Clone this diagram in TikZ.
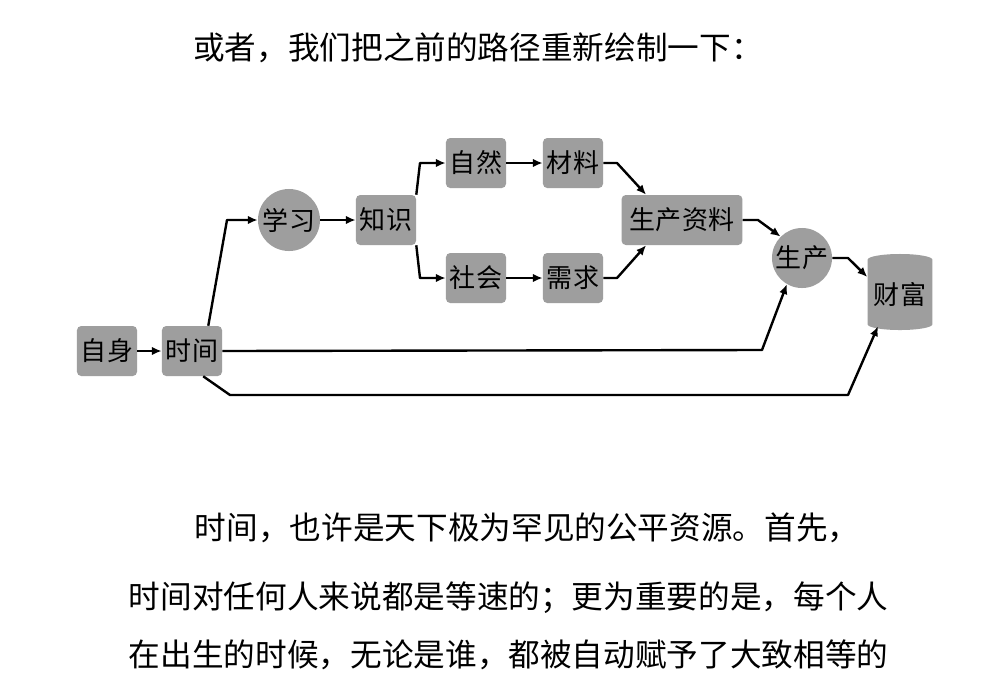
\documentclass[tikz,border=0pt]{standalone}
\usepackage{fontspec}
\newfontfamily\cjk{Noto Sans CJK SC}
\usetikzlibrary{shapes.geometric, positioning, arrows.meta}
\tikzset{
  box/.style={rectangle, rounded corners=3pt, minimum width=1.5cm, minimum height=1.25cm, inner sep=1pt, text centered, fill=black!38},
  act/.style={circle, minimum size=1.5cm, inner sep=0pt, text centered, fill=black!38},
  store/.style={cylinder, shape border rotate=90, aspect=0.22, minimum width=1.62cm, minimum height=1.9cm, inner sep=0pt, text centered, fill=black!38},
  arrow/.style={line width=1.7pt, -{Latex[length=7pt,width=6pt]}, line join=round},
  prose/.style={anchor=west, font=\cjk\fontsize{22.5}{26}\selectfont}
}

\begin{document}
\begin{tikzpicture}[x=0.025cm, y=-0.025cm, every node/.style={font=\cjk\fontsize{18.5}{21}\selectfont}]
        \fill[white] (0,0) rectangle (995,680);
        \node (title) at (478,48) [font=\cjk\fontsize{22.5}{26}\selectfont] {或者，我们把之前的路径重新绘制一下：};

        \node (zishen) [box] at (107,351) {自身};
        \node (shijian) [box] at (192,351) {时间};
        \node (xuexi) [act, minimum size=1.55cm] at (289,220) {学习};
        \node (zhishi) [box] at (386,220) {知识};
        \node (ziran) [box] at (476,163) {自然};
        \node (cailiao) [box] at (573,163) {材料};
        \node (shehui) [box] at (476,278) {社会};
        \node (xuqiu) [box] at (573,278) {需求};
        \node (ziliao) [box, minimum width=3.02cm] at (682,220) {生产资料};
        \node (shengchan) [act] at (802,258) {生产};
        \node (caifu) [store] at (900,295) {财富};

        % Conexiones
        \draw [arrow] (zishen) -- (shijian);
        \draw [arrow] ([xshift=-0.35cm]shijian.north east) -- (227,220) -- (xuexi.west);
        \draw [arrow] (xuexi) -- (zhishi);
        \draw [arrow] (zhishi.north east) -- (420,163) -- (ziran.west);
        \draw [arrow] (zhishi.south east) -- (420,278) -- (shehui.west);
        \draw [arrow] (ziran) -- (cailiao);
        \draw [arrow] (shehui) -- (xuqiu);
        \draw [arrow] (cailiao.east) -- (617,163) -- ([xshift=0.62cm]ziliao.north west);
        \draw [arrow] (xuqiu.east) -- (617,278) -- ([xshift=0.62cm]ziliao.south west);
        \draw [arrow] (ziliao.east) -- (758,220) -- (shengchan.135);
        \draw [arrow] (shengchan.east) -- (848,258) -- ([yshift=0.45cm]caifu.west);

        % Flechas largas desde tiempo
        \draw [arrow] (shijian.east) -- (762,350) -- (shengchan.240);
        \draw [arrow] ([xshift=0.28cm]shijian.south) -- (230,395) -- (848,395) -- ([xshift=-0.55cm,yshift=0.1cm]caifu.south);

        \node (para1) [prose] at (190,528) {时间，也许是天下极为罕见的公平资源。首先，};
        \node (para2) [prose] at (124,598) {时间对任何人来说都是等速的；更为重要的是，每个人};
        \node (para3) [prose] at (124,655) {在出生的时候，无论是谁，都被自动赋予了大致相等的};
    \end{tikzpicture}
\end{document}
